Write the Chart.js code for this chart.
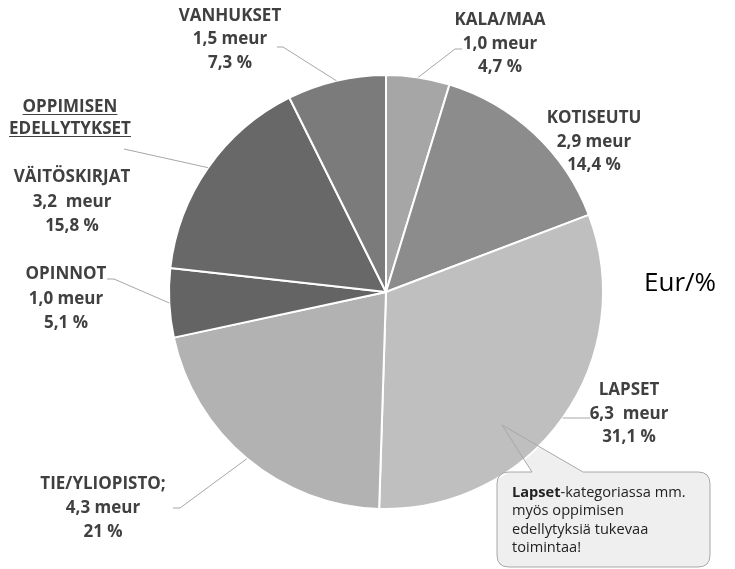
<!DOCTYPE html>
<html><head><meta charset="utf-8">
<script src="https://cdn.jsdelivr.net/npm/chart.js@4.4.1/dist/chart.umd.min.js"></script>
<style>html,body{margin:0;padding:0;background:#fff;}canvas{display:block}</style>
</head><body>
<canvas id="c" width="735" height="569"></canvas>
<script>
// ---- data ----
const categories = ['KALA/MAA','KOTISEUTU','LAPSET','TIE/YLIOPISTO;','OPINNOT','VÄITÖSKIRJAT','VANHUKSET'];
const shares = [4.7, 14.4, 31.1, 21, 5.1, 15.8, 7.3];
const meurLabels = ['1,0 meur','2,9 meur','6,3  meur','4,3 meur','1,0 meur','3,2  meur','1,5 meur'];
const pctLabels = ['4,7 %','14,4 %','31,1 %','21 %','5,1 %','15,8 %','7,3 %'];
const groupHeading = ['OPPIMISEN','EDELLYTYKSET'];
const unitTitle = 'Eur/%';
const noteBold = 'Lapset';
const noteLines = ['-kategoriassa mm.','myös oppimisen','edellytyksiä tukevaa','toimintaa!'];

// ---- styles / layout ----
const sliceColors = ['#a6a6a6','#8c8c8c','#bfbfbf','#b2b2b2','#646464','#686868','#7b7b7b'];
const labelLayout = [
  {x:500, y:25,  gap:23.5, leader:[[455,49],[462,49]]},
  {x:594, y:123, gap:23.5, leader:null},
  {x:629, y:395, gap:23.5, leader:[[577,418],[590,418]]},
  {x:103, y:489, gap:24,   leader:[[180,508],[173,508]]},
  {x:66,  y:279, gap:24.5, leader:[[114,279],[107,279]]},
  {x:72,  y:182, gap:24.5, leader:[[124,149]]},
  {x:230, y:21,  gap:23.3, leader:[[283,47],[277,47]]}
];
const labelFont = 'bold 17px "Open Sans"';
const textColor = '#404040';

function calloutPath(ctx){
  const l=497, t=472, r=710, b=567, rad=12;
  ctx.beginPath();
  ctx.moveTo(l+rad, t);
  ctx.lineTo(532, t);
  ctx.lineTo(502, 425);
  ctx.lineTo(583, t);
  ctx.lineTo(r-rad, t);
  ctx.quadraticCurveTo(r, t, r, t+rad);
  ctx.lineTo(r, b-rad);
  ctx.quadraticCurveTo(r, b, r-rad, b);
  ctx.lineTo(l+rad, b);
  ctx.quadraticCurveTo(l, b, l, b-rad);
  ctx.lineTo(l, t+rad);
  ctx.quadraticCurveTo(l, t, l+rad, t);
  ctx.closePath();
}

const decor = {
  id:'decor',
  beforeDatasetsDraw(chart){
    const ctx = chart.ctx;
    ctx.save();
    calloutPath(ctx);
    ctx.fillStyle = '#efefef';
    ctx.fill();
    ctx.restore();
  },
  afterDatasetsDraw(chart){
    const ctx = chart.ctx;
    ctx.save();
    // callout outline and text
    calloutPath(ctx);
    ctx.strokeStyle = '#a8a8a8';
    ctx.lineWidth = 1;
    ctx.stroke();
    ctx.fillStyle = '#222222';
    ctx.textBaseline = 'alphabetic';
    ctx.textAlign = 'left';
    ctx.font = 'bold 14.6px "Open Sans"';
    ctx.fillText(noteBold, 512, 497);
    const bw = ctx.measureText(noteBold).width;
    ctx.font = '14.6px "Open Sans"';
    ctx.fillText(noteLines[0], 512+bw, 497);
    for (let i=1;i<noteLines.length;i++) ctx.fillText(noteLines[i], 512, 497 + i*18.3);

    // leader lines
    const meta = chart.getDatasetMeta(0);
    ctx.strokeStyle = '#a6a6a6';
    ctx.lineWidth = 1;
    meta.data.forEach((arc, i) => {
      const L = labelLayout[i];
      if (!L.leader) return;
      const p = arc.getProps(['x','y','startAngle','endAngle','outerRadius'], true);
      const mid = (p.startAngle + p.endAngle)/2;
      ctx.beginPath();
      ctx.moveTo(p.x + Math.cos(mid)*p.outerRadius, p.y + Math.sin(mid)*p.outerRadius);
      L.leader.forEach(pt => ctx.lineTo(pt[0], pt[1]));
      ctx.stroke();
    });

    // labels
    ctx.fillStyle = textColor;
    ctx.textAlign = 'center';
    ctx.font = labelFont;
    categories.forEach((c, i) => {
      const L = labelLayout[i];
      [c, meurLabels[i], pctLabels[i]].forEach((s, k) => ctx.fillText(s, L.x, L.y + k*L.gap));
    });
    // group heading with underline
    ctx.strokeStyle = textColor;
    ctx.lineWidth = 1.2;
    groupHeading.forEach((s, k) => {
      const y = 112 + k*22;
      ctx.fillText(s, 70, y);
      const w = ctx.measureText(s).width;
      ctx.beginPath();
      ctx.moveTo(70 - w/2, y + 2.5);
      ctx.lineTo(70 + w/2, y + 2.5);
      ctx.stroke();
    });
    // unit title
    ctx.fillStyle = '#000';
    ctx.textAlign = 'left';
    ctx.font = '500 26px "Open Sans"';
    ctx.fillText(unitTitle, 644, 291);
    ctx.restore();
  }
};

new Chart(document.getElementById('c'), {
  type:'pie',
  data:{
    labels: categories,
    datasets:[{
      data: shares,
      backgroundColor: sliceColors,
      borderColor:'#ffffff',
      borderWidth:2,
      radius:217
    }]
  },
  options:{
    responsive:false,
    animation:false,
    events:[],
    layout:{padding:{left:169, right:132, top:75, bottom:60}},
    plugins:{legend:{display:false}, tooltip:{enabled:false}}
  },
  plugins:[decor]
});
</script>
</body></html>
